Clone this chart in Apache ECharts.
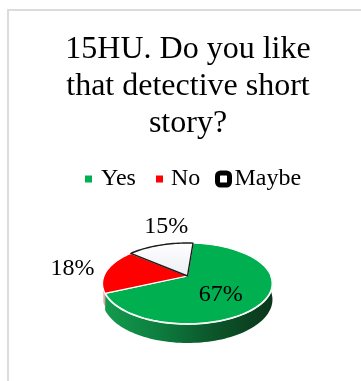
<!DOCTYPE html>
<html>
<head>
<meta charset="utf-8">
<style>html,body{margin:0;padding:0;background:#fff}#chart{width:361px;height:381px}</style>
<script src="https://cdn.jsdelivr.net/npm/echarts@6/dist/echarts.min.js"></script>
</head>
<body>
<div id="chart"></div>
<script>
// Survey answers
const titleText = '15HU. Do you like\nthat detective short\nstory?';
const categories = ['Yes', 'No', 'Maybe'];
const shares = [67, 18, 15];

// Tilted disc drawn with a simple perspective projection
const FONT = '"Liberation Serif", "Times New Roman", serif';
const disc = { cx: 187.5, cy: 276, rx: 83.5, ry: 39.1, persp: 0.185, depth: 15.5, startDeg: 4.5 };
const labelPlace = [
  { radial: 0.45, dx: 1, dy: 8 },
  { radial: 1.43, dx: -1, dy: 0 },
  { radial: 1.5, dx: 17, dy: -6 }
];

function project(deg, radial, drop) {
  const a = deg * Math.PI / 180;
  const X = Math.sin(a) * radial;
  const Y = -Math.cos(a) * radial;
  const w = 1 - disc.persp * Y;
  return [disc.cx + disc.rx * X / w, disc.cy + (disc.ry * Y + (drop || 0)) / w];
}
function rim(from, to, drop) {
  const pts = [];
  const n = Math.max(2, Math.ceil(Math.abs(to - from) / 2));
  for (let i = 0; i <= n; i++) pts.push(project(from + (to - from) * i / n, 1, drop));
  return pts;
}

const total = shares.reduce((s, v) => s + v, 0);
function sliceRange(idx) {
  let start = disc.startDeg;
  for (let i = 0; i < idx; i++) start += shares[i] / total * 360;
  return [start, start + shares[idx] / total * 360];
}

const topFill = [
  '#00B050',
  '#FF0000',
  { type: 'linear', x: 0, y: 0, x2: 0, y2: 1, colorStops: [{ offset: 0, color: '#ffffff' }, { offset: 1, color: '#eceef3' }] }
];
const topStroke = ['#ffffff', '#ffffff', '#1c1c1c'];
const legendFill = ['#00B050', '#FF0000', '#ffffff'];

function renderSlice(params, api) {
  const idx = params.seriesIndex;
  const [from, to] = sliceRange(idx);
  const children = [];
  const apex = project(0, 0);

  if (idx === 0) {
    // Visible wall below the front of the disc
    const wallFrom = 85, wallTo = to;
    const wall = rim(wallFrom, wallTo, 0).concat(rim(wallFrom, wallTo, disc.depth).reverse());
    children.push({
      type: 'polygon', shape: { points: wall },
      style: {
        fill: {
          type: 'linear', x: 0, y: 0, x2: 1, y2: 0,
          colorStops: [
            { offset: 0, color: '#149a4d' },
            { offset: 0.3, color: '#0d8040' },
            { offset: 0.6, color: '#0c5a2d' },
            { offset: 1, color: '#0a361b' }
          ]
        }
      }
    });
  }
  if (idx === 1) {
    const wall = rim(from, from + 6, 0).concat(rim(from, from + 6, disc.depth * 0.8).reverse());
    children.push({ type: 'polygon', shape: { points: wall }, style: { fill: '#f2a0a8' } });
  }

  children.push({
    type: 'polygon',
    shape: { points: [apex].concat(rim(from, to, 0)) },
    style: { fill: topFill[idx], stroke: topStroke[idx], lineWidth: idx === 2 ? 1.4 : 1.2, lineJoin: 'round' },
    z2: idx === 2 ? 3 : 1
  });

  if (idx === 0) {
    // Bright bevel along the front edge
    children.push({
      type: 'polyline', shape: { points: rim(90, to, 0) },
      style: { stroke: '#f4fbf6', lineWidth: 1.8, fill: null },
      z2: 2
    });
  }

  const place = labelPlace[idx];
  const mid = project((from + to) / 2, place.radial);
  children.push({
    type: 'text',
    style: {
      x: mid[0] + place.dx, y: mid[1] + place.dy,
      text: api.value(0) + '%',
      font: '24px ' + FONT, fill: '#000',
      align: 'center', verticalAlign: 'middle'
    },
    z2: 5
  });
  return { type: 'group', children };
}

const legendSpec = [
  { left: 85, itemWidth: 7, itemHeight: 7, icon: 'rect', border: 0, pad: 4 },
  { left: 156, itemWidth: 7, itemHeight: 7, icon: 'rect', border: 0, pad: 3 },
  { left: 215, itemWidth: 12, itemHeight: 12, icon: 'roundRect', border: 5, pad: 0 }
];

const chart = echarts.init(document.getElementById('chart'), null, { renderer: 'canvas' });
chart.setOption({
  animation: false,
  backgroundColor: '#ffffff',
  title: {
    text: titleText, left: 183, top: 26, textAlign: 'center',
    textStyle: { fontFamily: FONT, fontSize: 32, fontWeight: 'normal', color: '#000', lineHeight: 37 }
  },
  legend: categories.map((name, i) => ({
    data: [name], left: legendSpec[i].left, top: 181 - Math.max(legendSpec[i].itemHeight, 28) / 2,
    padding: 0, selectedMode: false, icon: legendSpec[i].icon,
    itemWidth: legendSpec[i].itemWidth, itemHeight: legendSpec[i].itemHeight,
    itemStyle: { borderWidth: legendSpec[i].border, borderColor: '#000' },
    textStyle: { fontFamily: FONT, fontSize: 24, color: '#000', padding: [0, 0, 0, legendSpec[i].pad] }
  })),
  graphic: [{
    type: 'polyline', silent: true,
    shape: { points: [[8, 381], [8, 10], [361, 10]] },
    style: { stroke: '#dcdcdc', lineWidth: 2, fill: null }
  }],
  series: categories.map((name, i) => ({
    type: 'custom', name, coordinateSystem: 'none', silent: true,
    itemStyle: { color: legendFill[i] },
    renderItem: renderSlice,
    data: [[shares[i]]]
  }))
});
</script>
</body>
</html>
